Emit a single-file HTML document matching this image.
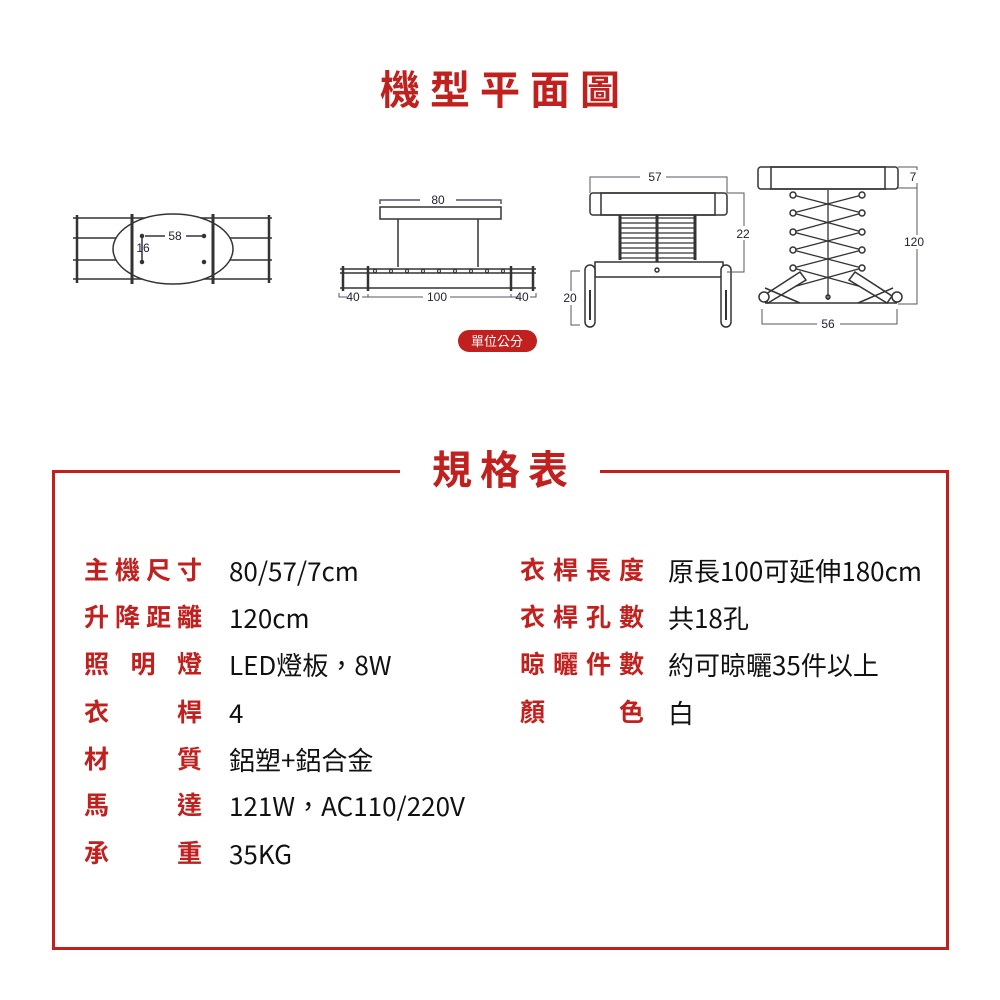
<!DOCTYPE html>
<html><head><meta charset="utf-8"><style>
body{margin:0;width:1000px;height:1000px;background:#fff;position:relative;overflow:hidden;font-family:"Liberation Sans","Noto Sans CJK TC",sans-serif}
.t1{position:absolute;left:0;width:1000px;top:66px;text-align:center;font-size:40px;font-weight:bold;color:#c0201e;letter-spacing:10px;text-indent:10px;line-height:50px}
.box{position:absolute;left:52px;top:470px;width:891px;height:474px;border:3px solid #c0201e}
.t2{position:absolute;left:400px;width:200px;top:446px;background:#fff;text-align:center;font-size:40px;font-weight:bold;color:#c0201e;letter-spacing:8px;text-indent:8px;line-height:50px}
.row{position:absolute;display:flex;align-items:center;font-size:25px;line-height:30px;height:30px}
.lab{display:flex;justify-content:space-between;width:118px;color:#c0201e;font-weight:bold;margin-right:27px}
.val{color:#111;font-family:"Noto Sans CJK TC",sans-serif;font-size:26px}
svg{position:absolute;left:0;top:0}
</style></head><body>
<div class="t1">機型平面圖</div>
<svg width="1000" height="400" viewBox="0 0 1000 400" fill="none" stroke="#333" stroke-width="1.5" font-family="Liberation Sans,sans-serif">
<g>
<line x1="73" y1="218" x2="272" y2="218"/><line x1="73" y1="238" x2="272" y2="238"/>
<line x1="73" y1="260" x2="272" y2="260"/><line x1="73" y1="279" x2="272" y2="279"/>
<line x1="77" y1="215" x2="77" y2="283" stroke-width="2.5"/><line x1="269" y1="215" x2="269" y2="283" stroke-width="2.5"/>
<ellipse cx="173" cy="249" rx="60" ry="35" fill="#fff"/>
<line x1="132" y1="214" x2="132" y2="284" stroke-width="3"/><line x1="213" y1="214" x2="213" y2="284" stroke-width="3"/>
<line x1="145" y1="236" x2="165" y2="236" stroke="#334"/><line x1="186" y1="236" x2="204" y2="236" stroke="#334"/>
<line x1="142" y1="236" x2="142" y2="262" stroke="#334"/>
<circle cx="142" cy="236" r="1.5" fill="#333"/><circle cx="204" cy="236" r="1.5" fill="#333"/><circle cx="142" cy="262" r="1.5" fill="#333"/><circle cx="204" cy="262" r="1.5" fill="#333"/>
<text x="175" y="240" font-size="12" fill="#223" stroke="none" text-anchor="middle">58</text>
<text x="143" y="252" font-size="12" fill="#223" stroke="none" text-anchor="middle">16</text>
</g>
<g>
<path d="M380 204 v-4 h40 M456 200 h45 v4" stroke="#556"/>
<text x="438" y="204" font-size="12" fill="#223" stroke="none" text-anchor="middle">80</text>
<rect x="380" y="207" width="121" height="12" fill="#fff"/>
<line x1="398" y1="219" x2="398" y2="267"/><line x1="478" y1="219" x2="478" y2="267"/>
<line x1="340" y1="269" x2="536" y2="269"/><line x1="340" y1="273" x2="536" y2="273"/>
<line x1="340" y1="288" x2="536" y2="288"/>
<line x1="343" y1="266" x2="343" y2="291" stroke-width="2.5"/><line x1="533" y1="266" x2="533" y2="291" stroke-width="2.5"/>
<line x1="368" y1="266" x2="368" y2="291" stroke-width="2.5"/><line x1="511" y1="266" x2="511" y2="291" stroke-width="2.5"/>
<g fill="#fff" stroke-width="1"><circle cx="375" cy="271" r="1.5"/><circle cx="391" cy="271" r="1.5"/><circle cx="407" cy="271" r="1.5"/><circle cx="423" cy="271" r="1.5"/><circle cx="439" cy="271" r="1.5"/><circle cx="455" cy="271" r="1.5"/><circle cx="471" cy="271" r="1.5"/><circle cx="487" cy="271" r="1.5"/><circle cx="503" cy="271" r="1.5"/></g>
<path d="M339 293 v4 h8 M362 297 h6 v-3 M368 297 h55 M450 297 h61 M511 294 v3 h8 M530 297 h6 v-4" stroke="#556" stroke-width="1"/>
<text x="353" y="301" font-size="12" fill="#223" stroke="none" text-anchor="middle">40</text>
<text x="437" y="301" font-size="12" fill="#223" stroke="none" text-anchor="middle">100</text>
<text x="522" y="301" font-size="12" fill="#223" stroke="none" text-anchor="middle">40</text>
<rect x="458" y="330" width="79" height="22" rx="11" fill="#c0201e" stroke="none"/>
<text x="497" y="346" font-size="13" fill="#fff" stroke="none" text-anchor="middle" font-family="Noto Sans CJK TC,sans-serif">單位公分</text>
</g>
<g>
<path d="M590 193 v-16 h50 M666 177 h61 v16" stroke="#556" stroke-width="1"/>
<text x="655" y="181" font-size="12" fill="#223" stroke="none" text-anchor="middle">57</text>
<rect x="590" y="193" width="137" height="22" rx="3" fill="#fff"/>
<rect x="601" y="193" width="114" height="22" fill="none"/>
<g stroke-width="1.3">
<line x1="620" y1="218" x2="695" y2="218"/><line x1="620" y1="223" x2="695" y2="223"/><line x1="620" y1="228" x2="695" y2="228"/><line x1="620" y1="233" x2="695" y2="233"/><line x1="620" y1="238" x2="695" y2="238"/><line x1="620" y1="243" x2="695" y2="243"/><line x1="620" y1="248" x2="695" y2="248"/><line x1="620" y1="253" x2="695" y2="253"/><line x1="620" y1="258" x2="695" y2="258"/>
<line x1="620" y1="215" x2="620" y2="260" stroke-width="3"/><line x1="657" y1="215" x2="657" y2="262" stroke-width="3"/><line x1="695" y1="215" x2="695" y2="260" stroke-width="3"/>
</g>
<rect x="595" y="262" width="128" height="15" fill="#fff"/>
<circle cx="657" cy="270" r="2"/>
<rect x="585" y="265" width="10" height="62" rx="5" fill="#fff"/>
<rect x="721" y="265" width="10" height="62" rx="5" fill="#fff"/>
<line x1="590" y1="290" x2="590" y2="320" stroke-width="2"/><line x1="726" y1="290" x2="726" y2="320" stroke-width="2"/>
<path d="M727 193 h17 v79 h-17" stroke="#556" stroke-width="1"/>
<rect x="735" y="226" width="18" height="14" fill="#fff" stroke="none"/>
<text x="743" y="238" font-size="12" fill="#223" stroke="none" text-anchor="middle">22</text>
<path d="M580 271 h-9 v54 h9" stroke="#556" stroke-width="1"/>
<rect x="562" y="291" width="18" height="14" fill="#fff" stroke="none"/>
<text x="570" y="302" font-size="12" fill="#223" stroke="none" text-anchor="middle">20</text>
</g>
<g>
<rect x="758" y="167" width="140" height="22" rx="3" fill="#fff"/>
<rect x="771" y="167" width="114" height="22"/>
<g stroke-width="1.3">
<path d="M793 195 L862 213 L793 232 L862 250 L793 268 L862 287"/>
<path d="M862 195 L793 213 L862 232 L793 250 L862 268 L793 287"/>
<line x1="828" y1="190" x2="828" y2="300"/>
</g>
<g fill="#fff"><circle cx="793" cy="195" r="3"/><circle cx="862" cy="195" r="3"/><circle cx="793" cy="213" r="3"/><circle cx="862" cy="213" r="3"/><circle cx="793" cy="232" r="3"/><circle cx="862" cy="232" r="3"/><circle cx="793" cy="250" r="3"/><circle cx="862" cy="250" r="3"/><circle cx="793" cy="268" r="3"/><circle cx="862" cy="268" r="3"/></g>
<path d="M763 296 L800 272 L806 280 L768 303 Z" fill="#fff"/>
<path d="M892 296 L855 272 L849 280 L887 303 Z" fill="#fff"/>
<line x1="765" y1="303" x2="897" y2="303"/>
<line x1="765" y1="288" x2="800" y2="303"/><line x1="893" y1="288" x2="858" y2="303"/>
<circle cx="764" cy="297" r="5" fill="#fff"/><circle cx="897" cy="297" r="5" fill="#fff"/>
<circle cx="828" cy="297" r="2"/>
<path d="M898 167 h19 v137 h-19 M898 188 h19" stroke="#556" stroke-width="1"/>
<rect x="907" y="170" width="18" height="13" fill="#fff" stroke="none"/>
<text x="913" y="181" font-size="12" fill="#223" stroke="none" text-anchor="middle">7</text>
<rect x="902" y="235" width="26" height="14" fill="#fff" stroke="none"/>
<text x="914" y="246" font-size="12" fill="#223" stroke="none" text-anchor="middle">120</text>
<path d="M762 309 v15 h55 M840 324 h57 v-15" stroke="#556" stroke-width="1"/>
<text x="828" y="328" font-size="12" fill="#223" stroke="none" text-anchor="middle">56</text>
</g>
</svg>
<div class="box"></div>
<div class="t2">規格表</div>

<div class="row" style="left:84px;top:556px"><div class="lab"><span>主</span><span>機</span><span>尺</span><span>寸</span></div><div class="val">80/57/7cm</div></div>
<div class="row" style="left:84px;top:603px"><div class="lab"><span>升</span><span>降</span><span>距</span><span>離</span></div><div class="val">120cm</div></div>
<div class="row" style="left:84px;top:650px"><div class="lab"><span>照</span><span>明</span><span>燈</span></div><div class="val">LED燈板，8W</div></div>
<div class="row" style="left:84px;top:698px"><div class="lab"><span>衣</span><span>桿</span></div><div class="val">4</div></div>
<div class="row" style="left:84px;top:745px"><div class="lab"><span>材</span><span>質</span></div><div class="val">鋁塑+鋁合金</div></div>
<div class="row" style="left:84px;top:791px"><div class="lab"><span>馬</span><span>達</span></div><div class="val">121W，AC110/220V</div></div>
<div class="row" style="left:84px;top:839px"><div class="lab"><span>承</span><span>重</span></div><div class="val">35KG</div></div>

<div class="row" style="left:520px;top:556px"><div class="lab" style="width:124px;margin-right:24px"><span>衣</span><span>桿</span><span>長</span><span>度</span></div><div class="val">原長100可延伸180cm</div></div>
<div class="row" style="left:520px;top:603px"><div class="lab" style="width:124px;margin-right:24px"><span>衣</span><span>桿</span><span>孔</span><span>數</span></div><div class="val">共18孔</div></div>
<div class="row" style="left:520px;top:650px"><div class="lab" style="width:124px;margin-right:24px"><span>晾</span><span>曬</span><span>件</span><span>數</span></div><div class="val">約可晾曬35件以上</div></div>
<div class="row" style="left:520px;top:698px"><div class="lab" style="width:124px;margin-right:24px"><span>顏</span><span>色</span></div><div class="val">白</div></div>
</body></html>
